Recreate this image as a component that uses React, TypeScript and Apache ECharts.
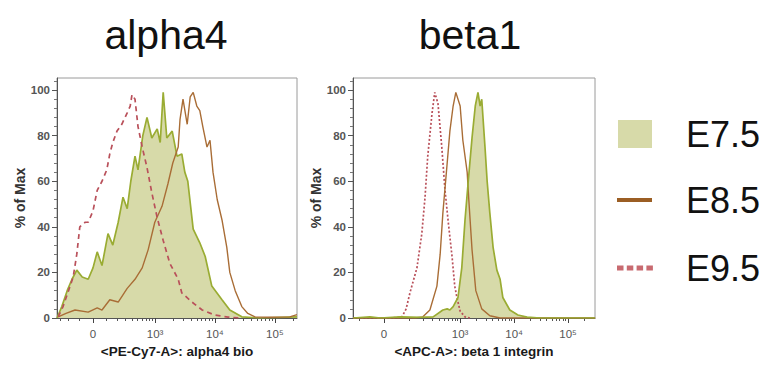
import React, { useEffect, useRef } from "react";
import * as echarts from "echarts";

// ---------- data (x in display units of each panel's biexponential axis, y = % of Max) ----------
const ALPHA_E75: [number, number][] = [
  [-0.6, 0], [-0.52, 5], [-0.43, 12], [-0.35, 17], [-0.27, 21], [-0.18, 18], [-0.08, 17], [0, 22],
  [0.07, 29], [0.15, 23], [0.25, 37], [0.33, 32], [0.42, 42], [0.5, 53], [0.57, 48], [0.63, 60],
  [0.7, 71], [0.75, 65], [0.83, 80], [0.9, 88], [0.98, 79], [1.07, 83], [1.12, 77], [1.17, 99],
  [1.23, 79], [1.32, 82], [1.4, 71], [1.48, 72], [1.53, 64], [1.58, 60], [1.67, 39], [1.78, 33],
  [1.87, 27], [1.98, 14], [2.15, 8], [2.28, 3.5], [2.48, 0.5], [2.78, 0], [3.4, 0.5],
];
const ALPHA_E85: [number, number][] = [
  [-0.58, 0.5], [-0.45, 2], [-0.3, 3.5], [-0.08, 2.6], [0.07, 4.4], [0.15, 3.5], [0.28, 8], [0.42, 7],
  [0.57, 13], [0.7, 17], [0.82, 22], [0.92, 30], [1.03, 42], [1.15, 49], [1.25, 59], [1.33, 68],
  [1.42, 75], [1.45, 87], [1.5, 96], [1.57, 85], [1.62, 97], [1.67, 99], [1.73, 93], [1.78, 91],
  [1.83, 84], [1.9, 75], [1.95, 78], [2.0, 64], [2.07, 52], [2.15, 43], [2.23, 31], [2.28, 20],
  [2.37, 12], [2.48, 5], [2.58, 2], [2.7, 0.5], [2.95, 0.3], [3.28, 0.5], [3.4, 1.5],
];
const ALPHA_E95: [number, number][] = [
  [-0.58, 0.5], [-0.5, 5], [-0.42, 11], [-0.33, 18], [-0.27, 28], [-0.22, 40], [-0.13, 42], [-0.08, 42],
  [0, 47], [0.07, 56], [0.15, 60], [0.23, 65], [0.28, 72], [0.33, 77], [0.4, 82], [0.48, 85],
  [0.57, 90], [0.62, 93], [0.65, 98], [0.7, 96], [0.75, 84], [0.82, 75], [0.9, 66], [0.98, 55],
  [1.07, 44], [1.17, 34], [1.28, 24], [1.42, 17], [1.48, 11], [1.65, 7], [1.82, 3.5], [2.03, 1.3],
  [2.25, 0.4], [2.45, 0],
];
const BETA_E75: [number, number][] = [
  [-0.57, 0], [-0.26, 0.5], [-0.07, 0], [0.3, 0.5], [0.67, 0.3], [0.91, 0.5], [1.09, 3.5], [1.17, 4],
  [1.22, 3.5], [1.28, 5], [1.37, 9], [1.44, 22], [1.5, 43], [1.56, 60], [1.63, 79], [1.69, 93],
  [1.74, 99], [1.78, 93], [1.81, 96], [1.87, 75], [1.91, 60], [1.96, 46], [2.02, 31], [2.09, 21],
  [2.15, 17], [2.2, 9], [2.33, 3.5], [2.48, 1.3], [2.65, 0.4], [2.89, 0], [3.91, 0],
];
const BETA_E85: [number, number][] = [
  [-0.57, 0], [0.57, 0], [0.72, 0.5], [0.85, 3.5], [0.98, 14], [1.04, 28], [1.09, 46], [1.17, 68],
  [1.22, 82], [1.28, 93], [1.33, 99], [1.41, 93], [1.46, 78], [1.54, 64], [1.57, 52], [1.63, 30],
  [1.7, 12], [1.81, 4], [1.96, 1], [2.15, 0], [3.91, 0],
];
const BETA_E95: [number, number][] = [
  [-0.57, 0], [0.11, 0], [0.3, 0.3], [0.33, 0.4], [0.41, 4], [0.48, 11], [0.61, 22], [0.7, 37],
  [0.76, 53], [0.81, 71], [0.89, 90], [0.94, 99], [1.0, 94], [1.07, 75], [1.13, 56], [1.19, 42],
  [1.26, 27], [1.31, 14], [1.35, 9], [1.41, 3], [1.5, 0.5], [1.59, 0],
];

const SERIES_NAMES = ["E7.5", "E8.5", "E9.5"];
const PANEL_TITLES = ["alpha4", "beta1"];
const X_NAMES = ["<PE-Cy7-A>: alpha4 bio", "<APC-A>: beta 1 integrin"];
const Y_NAME = "% of Max";
const X_TICK_LABELS = ["0", "10³", "10⁴", "10⁵"];
const X_TICK_VALUES = [0, 1e3, 1e4, 1e5];
const Y_TICKS = [0, 20, 40, 60, 80, 100];
const Y_MINOR = [4, 8, 12, 16, 24, 28, 32, 36, 44, 48, 52, 56, 64, 68, 72, 76, 84, 88, 92, 96, 104];
const MINOR_VALUES = [
  -900, -800, -700, -600, -500, -400, -300, -200, -100, 100, 200, 300, 400, 500, 600, 700, 800, 900,
  2e3, 3e3, 4e3, 5e3, 6e3, 7e3, 8e3, 9e3, 2e4, 3e4, 4e4, 5e4, 6e4, 7e4, 8e4, 9e4, 2e5,
];

const C_FILL = "#d7daa9";
const C_GREEN = "#9aac33";
const C_BROWN = "#a96d36";
const C_RED = "#b9505a";

// biexponential-like display transform (axis scale only)
const biex = (w: number) => (v: number) => Math.asinh(v / (2 * w)) / Math.LN10;

export default function App() {
  const ref = useRef<HTMLDivElement>(null);
  useEffect(() => {
    if (!ref.current) return;
    const chart = echarts.init(ref.current, undefined, { renderer: "svg" });

    const panels = [
      { left: 57, width: 240, min: -0.6, max: 3.4, tf: biex(93) },
      { left: 353, width: 242, min: -0.574, max: 3.907, tf: biex(39) },
    ];

    const grids: any[] = [];
    const xAxes: any[] = [];
    const yAxes: any[] = [];
    panels.forEach((p, i) => {
      grids.push({
        left: p.left, top: 78, width: p.width, height: 240,
        show: true, borderColor: "#9a9a9a", borderWidth: 1, backgroundColor: "transparent",
      });
      const major = X_TICK_VALUES.map(p.tf);
      const minor = MINOR_VALUES.map(p.tf).filter((v) => v > p.min && v < p.max);
      xAxes.push({
        type: "value", gridIndex: i, min: p.min, max: p.max, position: "bottom",
        name: X_NAMES[i], nameLocation: "middle", nameGap: 25,
        nameTextStyle: { fontFamily: "Liberation Sans", fontWeight: "bold", fontSize: 13.5, color: "#1a1a1a" },
        axisLine: { show: true, onZero: false, lineStyle: { color: "#555", width: 1 } },
        axisTick: { show: true, customValues: major, length: 5, lineStyle: { color: "#444" } },
        axisLabel: {
          customValues: major, margin: 10, fontFamily: "Liberation Sans", fontSize: 11.5, color: "#555",
          formatter: (v: number) => {
            const k = major.findIndex((m) => Math.abs(m - v) < 1e-6);
            return k >= 0 ? X_TICK_LABELS[k] : "";
          },
        },
        splitLine: { show: false },
      });
      xAxes.push({
        type: "value", gridIndex: i, min: p.min, max: p.max, position: "bottom",
        axisLine: { show: false, onZero: false },
        axisTick: { show: true, customValues: minor, length: 3, lineStyle: { color: "#555" } },
        axisLabel: { show: false },
        splitLine: { show: false },
      });
      yAxes.push({
        type: "value", gridIndex: i, min: 0, max: 105.3, position: "left",
        name: Y_NAME, nameLocation: "middle", nameGap: 26, nameRotate: 90,
        nameTextStyle: { fontFamily: "Liberation Sans", fontWeight: "bold", fontSize: 14, color: "#333" },
        axisLine: { show: true, onZero: false, lineStyle: { color: "#555", width: 1 } },
        axisTick: { show: true, customValues: Y_TICKS, length: 5, lineStyle: { color: "#555" } },
        axisLabel: {
          customValues: Y_TICKS, margin: 7, fontFamily: "Liberation Sans", fontWeight: "bold",
          fontSize: 11.5, color: "#555",
        },
        splitLine: { show: false },
      });
      yAxes.push({
        type: "value", gridIndex: i, min: 0, max: 105.3, position: "left",
        axisLine: { show: false, onZero: false },
        axisTick: { show: true, customValues: Y_MINOR, length: 3, lineStyle: { color: "#777" } },
        axisLabel: { show: false },
        splitLine: { show: false },
      });
    });

    const fillSeries = (data: [number, number][], g: number) => ({
      type: "line", name: SERIES_NAMES[0], xAxisIndex: g * 2, yAxisIndex: g * 2, data,
      showSymbol: false, lineStyle: { color: C_GREEN, width: 1.7 },
      areaStyle: { color: C_FILL, opacity: 1 },
    });
    const brownSeries = (data: [number, number][], g: number) => ({
      type: "line", name: SERIES_NAMES[1], xAxisIndex: g * 2, yAxisIndex: g * 2, data,
      showSymbol: false, lineStyle: { color: C_BROWN, width: 1.4 },
    });
    const redSeries = (data: [number, number][], g: number, dash: number[]) => ({
      type: "line", name: SERIES_NAMES[2], xAxisIndex: g * 2, yAxisIndex: g * 2, data,
      showSymbol: false, lineStyle: { color: C_RED, width: 1.7, type: dash },
    });

    const legendY = [134, 200, 268];
    chart.setOption({
      animation: false,
      backgroundColor: "#ffffff",
      grid: grids,
      xAxis: xAxes,
      yAxis: yAxes,
      series: [
        fillSeries(ALPHA_E75, 0),
        brownSeries(ALPHA_E85, 0),
        redSeries(ALPHA_E95, 0, [5, 4]),
        redSeries(BETA_E95, 1, [2, 2]),
        brownSeries(BETA_E85, 1),
        fillSeries(BETA_E75, 1),
      ],
      graphic: [
        ...PANEL_TITLES.map((t, i) => ({
          type: "text", x: [166, 470][i], y: 35,
          style: {
            text: t, fontFamily: "Liberation Sans", fontSize: 41, fill: "#111",
            textAlign: "center", textVerticalAlign: "middle",
          },
        })),
        { type: "rect", shape: { x: 618, y: 120, width: 34, height: 28 }, style: { fill: C_FILL } },
        { type: "line", shape: { x1: 617, y1: 200, x2: 652, y2: 200 }, style: { stroke: "#9b5e24", lineWidth: 4 } },
        {
          type: "line", shape: { x1: 617, y1: 268, x2: 653, y2: 268 },
          style: { stroke: "#c86a70", lineWidth: 5, lineDash: [6.5, 3.3] },
        },
        ...SERIES_NAMES.map((n, i) => ({
          type: "text", x: 686, y: legendY[i],
          style: {
            text: n, fontFamily: "Liberation Sans", fontSize: 36, fill: "#111",
            textAlign: "left", textVerticalAlign: "middle",
          },
        })),
      ],
    });
    return () => chart.dispose();
  }, []);

  return (
    <div
      ref={ref}
      style={{ position: "fixed", left: 0, top: 0, width: 773, height: 367, background: "#fff" }}
    />
  );
}
